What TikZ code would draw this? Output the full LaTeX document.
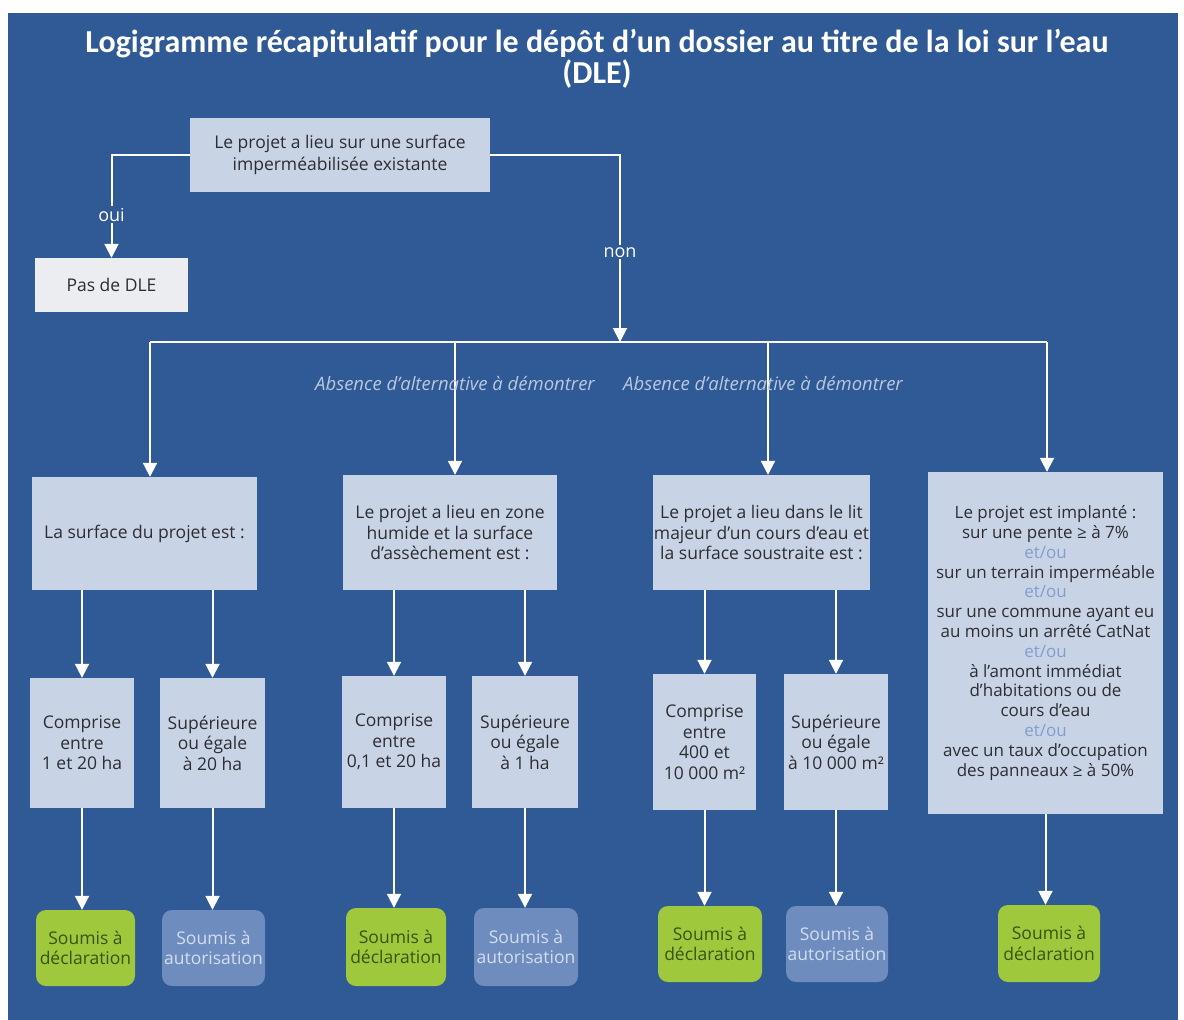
\documentclass[tikz,border=0pt]{standalone}
\usepackage{fontspec}
\setmainfont{Open Sans}
\newfontfamily\titlefont{Carlito}
\usetikzlibrary{arrows.meta}
\definecolor{bgblue}{RGB}{47,90,150}
\definecolor{boxc}{RGB}{200,212,230}
\definecolor{pasc}{RGB}{236,237,240}
\definecolor{greenc}{RGB}{160,200,60}
\definecolor{greentxt}{RGB}{55,85,20}
\definecolor{authc}{RGB}{110,140,190}
\definecolor{authtxt}{RGB}{210,222,240}
\definecolor{txt}{RGB}{45,45,50}
\definecolor{abs}{RGB}{185,200,222}
\definecolor{etou}{RGB}{130,158,205}
\begin{document}
\begin{tikzpicture}[x=1pt,y=-1pt,
  bodyfont/.style={font=\fontsize{17.5}{20.5}\selectfont},
  box/.style={fill=boxc, text=txt, bodyfont, align=center, inner sep=0pt},
  outdecl/.style={fill=greenc, text=greentxt, bodyfont, align=center, inner sep=0pt, rounded corners=10pt},
  outauth/.style={fill=authc, text=authtxt, bodyfont, align=center, inner sep=0pt, rounded corners=10pt},
  conn/.style={draw=white, line width=2pt},
  arr/.style={conn, -{Triangle[width=14pt,length=14pt]}},
  lbl/.style={fill=bgblue, text=white, font=\fontsize{18}{20}\selectfont, inner sep=2pt},
  abslbl/.style={text=abs, font=\fontsize{18.5}{20}\selectfont\itshape, inner sep=0pt}
]
\useasboundingbox (0,0) rectangle (1184,1020);
\fill[white] (0,0) rectangle (1184,1020);
\fill[bgblue] (8,13) rectangle (1178,1020);

\node[text=white, align=center, font=\titlefont\bfseries\fontsize{32}{31}\selectfont] (title) at (597,59)
  {Logigramme récapitulatif pour le dépôt d’un dossier au titre de la loi sur l’eau\\(DLE)};

\node[box, minimum width=300pt, minimum height=74pt, font=\fontsize{17.5}{22}\selectfont] (top) at (340,155)
  {Le projet a lieu sur une surface\\imperméabilisée existante};
\node[box, fill=pasc, minimum width=153pt, minimum height=54pt] (pas) at (111.5,285) {Pas de DLE};

\node[box, minimum width=225pt, minimum height=113pt] (A) at (144.5,533.5) {La surface du projet est :};
\node[box, minimum width=214pt, minimum height=115pt] (B) at (450,532.5)
  {Le projet a lieu en zone\\humide et la surface\\d’assèchement est :};
\node[box, minimum width=217pt, minimum height=115pt] (C) at (761.5,532.5)
  {Le projet a lieu dans le lit\\majeur d’un cours d’eau et\\la surface soustraite est :};
\node[box, minimum width=235pt, minimum height=342pt, font=\fontsize{17}{19.8}\selectfont] (D) at (1045.5,643)
  {Le projet est implanté :\\sur une pente ≥ à 7\%\\{\color{etou}et/ou}\\sur un terrain imperméable\\{\color{etou}et/ou}\\sur une commune ayant eu\\au moins un arrêté CatNat\\{\color{etou}et/ou}\\à l’amont immédiat\\d’habitations ou de\\cours d’eau\\{\color{etou}et/ou}\\avec un taux d’occupation\\des panneaux ≥ à 50\%};

\node[box, minimum width=104pt, minimum height=130pt] (A1) at (82,743) {Comprise\\entre\\1 et 20 ha};
\node[box, minimum width=105pt, minimum height=130pt] (A2) at (212.5,743) {Supérieure\\ou égale\\à 20 ha};
\node[box, minimum width=104pt, minimum height=132pt] (B1) at (394,742) {Comprise\\entre\\0,1 et 20 ha};
\node[box, minimum width=106pt, minimum height=132pt] (B2) at (525,742) {Supérieure\\ou égale\\à 1 ha};
\node[box, minimum width=103pt, minimum height=136pt] (C1) at (704.5,742) {Comprise\\entre\\400 et\\10 000 m²};
\node[box, minimum width=104pt, minimum height=136pt] (C2) at (836,742) {Supérieure\\ou égale\\à 10 000 m²};

\node[outdecl, minimum width=99pt, minimum height=76pt] (oA1) at (85.5,948) {Soumis à\\déclaration};
\node[outauth, minimum width=103pt, minimum height=76pt] (oA2) at (213.5,948) {Soumis à\\autorisation};
\node[outdecl, minimum width=100pt, minimum height=78pt] (oB1) at (396,947) {Soumis à\\déclaration};
\node[outauth, minimum width=104pt, minimum height=78pt] (oB2) at (526,947) {Soumis à\\autorisation};
\node[outdecl, minimum width=104pt, minimum height=76pt] (oC1) at (710,944) {Soumis à\\déclaration};
\node[outauth, minimum width=102pt, minimum height=76pt] (oC2) at (837,944) {Soumis à\\autorisation};
\node[outdecl, minimum width=102pt, minimum height=77pt] (oD) at (1049,943.5) {Soumis à\\déclaration};

\coordinate (bus) at (620,342);
\coordinate (busA) at (150,342);
\coordinate (busB) at (455,342);
\coordinate (busC) at (768,342);
\coordinate (busD) at (1047,342);

% top decision
\draw[arr] (top.west) -| node[lbl, pos=0.79] {oui} (pas.north);
\draw[arr] (top.east) -| node[lbl, pos=0.76] {non} (bus);
\draw[conn] (busA) -- (busD);
\draw[arr] (busA) -- (busA |- A.north);
\draw[arr] (busB) -- (busB |- B.north);
\draw[arr] (busC) -- (busC |- C.north);
\draw[arr] (busD) -- (busD |- D.north);

\node[abslbl] (abs1) at (455,383) {Absence d’alternative à démontrer};
\node[abslbl] (abs2) at (763,383) {Absence d’alternative à démontrer};

% level 1 to level 2
\draw[arr] (A.south -| A1.north) -- (A1.north);
\draw[arr] (A.south -| A2.north) -- (A2.north);
\draw[arr] (B.south -| B1.north) -- (B1.north);
\draw[arr] (B.south -| B2.north) -- (B2.north);
\draw[arr] (C.south -| C1.north) -- (C1.north);
\draw[arr] (C.south -| C2.north) -- (C2.north);

% level 2 to outcomes
\draw[arr] (A1.south) -- (A1.south |- oA1.north);
\draw[arr] (A2.south) -- (A2.south |- oA2.north);
\draw[arr] (B1.south) -- (B1.south |- oB1.north);
\draw[arr] (B2.south) -- (B2.south |- oB2.north);
\draw[arr] (C1.south) -- (C1.south |- oC1.north);
\draw[arr] (C2.south) -- (C2.south |- oC2.north);
\draw[arr] (D.south) -- (D.south |- oD.north);
\end{tikzpicture}
\end{document}
